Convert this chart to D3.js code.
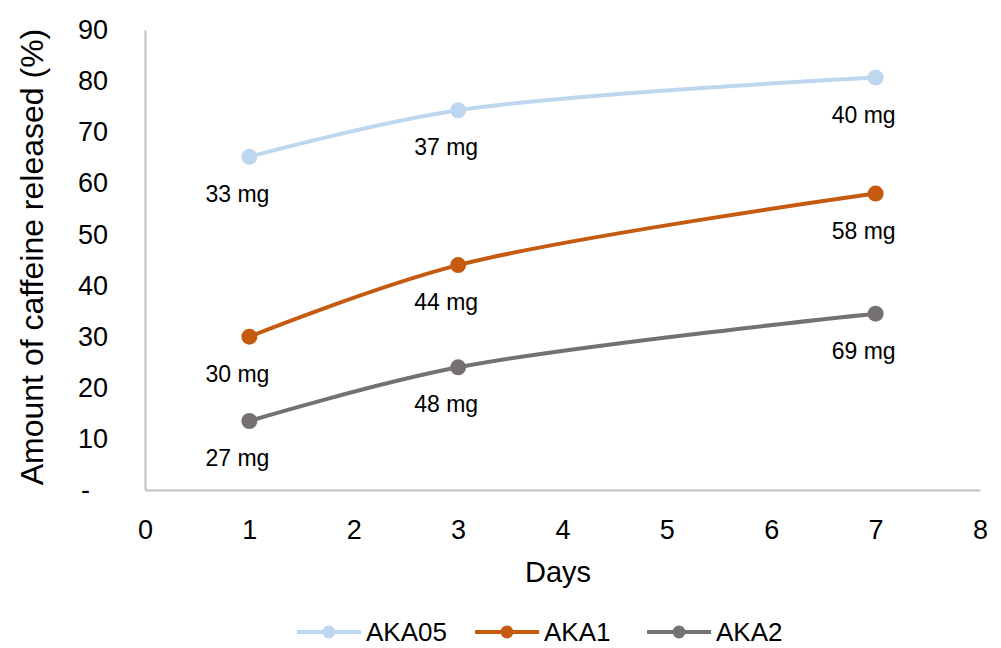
<!DOCTYPE html>
<html><head><meta charset="utf-8">
<script src="https://cdn.jsdelivr.net/npm/d3@7"></script>
<style>body{margin:0;background:#fff}svg{display:block;font-family:"Liberation Sans",Arial,sans-serif}</style>
</head><body><svg id="c" width="1001" height="648"></svg>
<script>
const days = [1, 3, 7];
const seriesNames = ["AKA05", "AKA1", "AKA2"];
const aka05 = [65.2, 74.3, 80.7];
const aka1 = [30, 44, 58];
const aka2 = [13.5, 24, 34.5];
const aka05Labels = ["33 mg", "37 mg", "40 mg"];
const aka1Labels = ["30 mg", "44 mg", "58 mg"];
const aka2Labels = ["27 mg", "48 mg", "69 mg"];
const xTicks = [0,1,2,3,4,5,6,7,8];
const yTicks = [0,10,20,30,40,50,60,70,80,90];
const colors = ["#BDD7EE", "#C55A11", "#767171"];

const series = [
  {name: seriesNames[0], values: aka05, labels: aka05Labels, color: colors[0]},
  {name: seriesNames[1], values: aka1, labels: aka1Labels, color: colors[1]},
  {name: seriesNames[2], values: aka2, labels: aka2Labels, color: colors[2]}
];

const FONT = '"Liberation Sans",Arial,sans-serif';
const svg = d3.select("#c");
const x = d3.scaleLinear().domain([0, 8]).range([145, 980]);
const y = d3.scaleLinear().domain([0, 90]).range([490, 30]);

// axes
const xAxis = svg.append("g").attr("transform", `translate(0,${y(0)})`)
  .call(d3.axisBottom(x).tickValues(xTicks).tickSize(0).tickPadding(30).tickFormat(d3.format("d")));
const yAxis = svg.append("g").attr("transform", `translate(${x(0)},0)`)
  .call(d3.axisLeft(y).tickValues(yTicks).tickSize(0).tickPadding(37).tickFormat(d => d === 0 ? "-" : d));
[xAxis, yAxis].forEach(a => {
  a.attr("font-size", 27).attr("font-family", FONT);
  a.select(".domain").attr("stroke", "#BFBFBF").attr("stroke-width", 2);
  a.selectAll("text").attr("fill", "#000");
});
yAxis.selectAll(".tick text").filter(d => d === 0).attr("dx", -18);

svg.append("text").attr("x", 558).attr("y", 582).attr("text-anchor", "middle")
  .attr("font-size", 29).text("Days");
svg.append("text").attr("transform", `translate(43,257) rotate(-90)`).attr("text-anchor", "middle")
  .attr("font-size", 32).text("Amount of caffeine released (%)");

const line = d3.line().x(d => x(d[0])).y(d => y(d[1])).curve(d3.curveCatmullRom.alpha(0.5));

series.forEach(s => {
  const pts = days.map((d, i) => [d, s.values[i]]);
  svg.append("path").datum(pts).attr("d", line).attr("fill", "none")
    .attr("stroke", s.color).attr("stroke-width", 4).attr("stroke-linecap", "round");
  svg.selectAll(null).data(pts).enter().append("circle")
    .attr("cx", d => x(d[0])).attr("cy", d => y(d[1])).attr("r", 8).attr("fill", s.color);
  svg.selectAll(null).data(pts).enter().append("text")
    .attr("x", d => x(d[0]) - 12).attr("y", d => y(d[1]) + 45).attr("text-anchor", "middle")
    .attr("font-size", 23).attr("fill", "#000").text((d, i) => s.labels[i]);
});

// legend
const legX = [297, 475, 647];
series.forEach((s, i) => {
  const g = svg.append("g").attr("transform", `translate(${legX[i]},632)`);
  g.append("line").attr("x1", 0).attr("x2", 64).attr("y1", 0).attr("y2", 0)
    .attr("stroke", s.color).attr("stroke-width", 4);
  g.append("circle").attr("cx", 32).attr("cy", 0).attr("r", 6.5).attr("fill", s.color);
  g.append("text").attr("x", 69).attr("y", 9).attr("font-size", 26).text(s.name);
});
</script></body></html>
